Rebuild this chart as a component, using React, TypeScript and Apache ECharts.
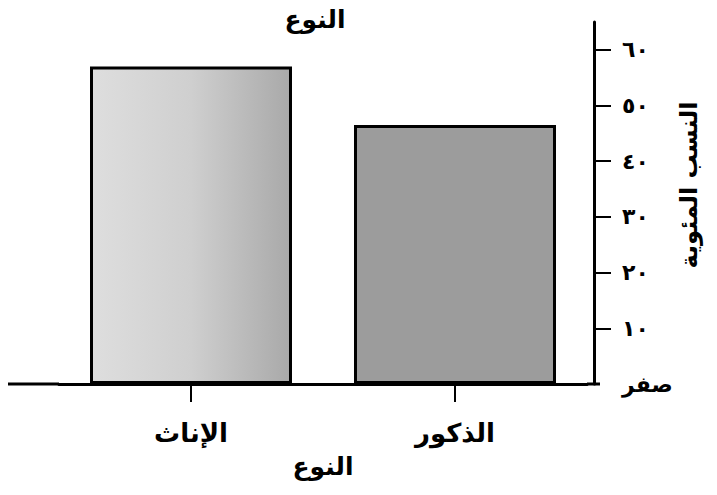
import React, { useEffect, useRef } from "react";
import * as echarts from "echarts";

const categories = ["الإناث", "الذكور"];
const percentages = [57, 46.5];
const yTickValues = [0, 10, 20, 30, 40, 50, 60];
const yTickLabels = ["صفر", "١٠", "٢٠", "٣٠", "٤٠", "٥٠", "٦٠"];
const titleText = "النوع";
const xAxisName = "النوع";
const yAxisName = "النسب المئوية";

const W = 717;
const H = 495;
const GRID_LEFT = 59;
const GRID_RIGHT = 130;
const GRID_TOP = 22;
const GRID_BOTTOM = 111;
const FONT = "'DejaVu Sans', sans-serif";

export default function App() {
  const ref = useRef<HTMLDivElement>(null);
  useEffect(() => {
    if (!ref.current) return;
    const chart = echarts.init(ref.current, null, { renderer: "svg", width: W, height: H });
    const axisY = H - GRID_BOTTOM;
    const gridRightX = W - GRID_RIGHT;
    chart.setOption({
      animation: false,
      backgroundColor: "#ffffff",
      title: {
        text: titleText,
        left: 310,
        top: 2,
        textAlign: "center",
        textStyle: { fontFamily: FONT, fontSize: 25, fontWeight: "bold", color: "#000" },
      },
      grid: { left: GRID_LEFT, right: GRID_RIGHT, top: GRID_TOP, bottom: GRID_BOTTOM, containLabel: false },
      xAxis: {
        type: "category",
        data: categories,
        name: xAxisName,
        nameLocation: "middle",
        nameGap: 70,
        nameTextStyle: { fontFamily: FONT, fontSize: 25, fontWeight: "bold", color: "#000" },
        axisLine: { show: true, lineStyle: { color: "#000", width: 3 } },
        axisTick: { show: true, alignWithLabel: true, length: 18, lineStyle: { color: "#000", width: 2 } },
        axisLabel: { margin: 36, fontFamily: FONT, fontSize: 26, fontWeight: "bold", color: "#000" },
        splitLine: { show: false },
      },
      yAxis: {
        type: "value",
        position: "right",
        offset: 7,
        min: 0,
        max: 65,
        interval: 10,
        axisLine: { show: true, lineStyle: { color: "#000", width: 3 } },
        axisTick: {
          show: true,
          inside: false,
          length: 17,
          lineStyle: { color: "#000", width: 2 },
          customValues: yTickValues.filter((v) => v > 0),
        },
        axisLabel: {
          margin: 28,
          fontFamily: FONT,
          fontSize: 22,
          fontWeight: "bold",
          color: "#000",
          customValues: yTickValues,
          formatter: (v: number) => {
            const i = yTickValues.indexOf(v);
            return i >= 0 ? yTickLabels[i] : "";
          },
        },
        splitLine: { show: false },
      },
      series: [
        {
          type: "bar",
          barWidth: 202,
          data: percentages.map((v, i) => ({
            value: v,
            itemStyle: {
              color:
                i === 0
                  ? new echarts.graphic.LinearGradient(0, 0, 1, 0, [
                      { offset: 0, color: "#dedede" },
                      { offset: 0.5, color: "#cfcfcf" },
                      { offset: 1, color: "#a9a9a9" },
                    ])
                  : "#9c9c9c",
              borderColor: "#000",
              borderWidth: 3,
            },
          })),
        },
      ],
      graphic: [
        {
          type: "line",
          shape: { x1: 8, y1: axisY, x2: GRID_LEFT, y2: axisY },
          style: { stroke: "#000", lineWidth: 3 },
          z: 10,
        },
        {
          type: "line",
          shape: { x1: gridRightX, y1: axisY, x2: gridRightX + 13, y2: axisY },
          style: { stroke: "#000", lineWidth: 3 },
          z: 10,
        },
        {
          type: "text",
          x: 689,
          y: 185,
          rotation: Math.PI / 2,
          style: {
            text: yAxisName,
            fontFamily: FONT,
            fontSize: 24,
            fontWeight: "bold",
            fill: "#000",
            align: "center",
            verticalAlign: "middle",
          },
        },
      ],
    });
    return () => chart.dispose();
  }, []);
  return (
    <div
      ref={ref}
      style={{ position: "fixed", left: 0, top: 0, width: W, height: H, background: "#fff" }}
    />
  );
}
